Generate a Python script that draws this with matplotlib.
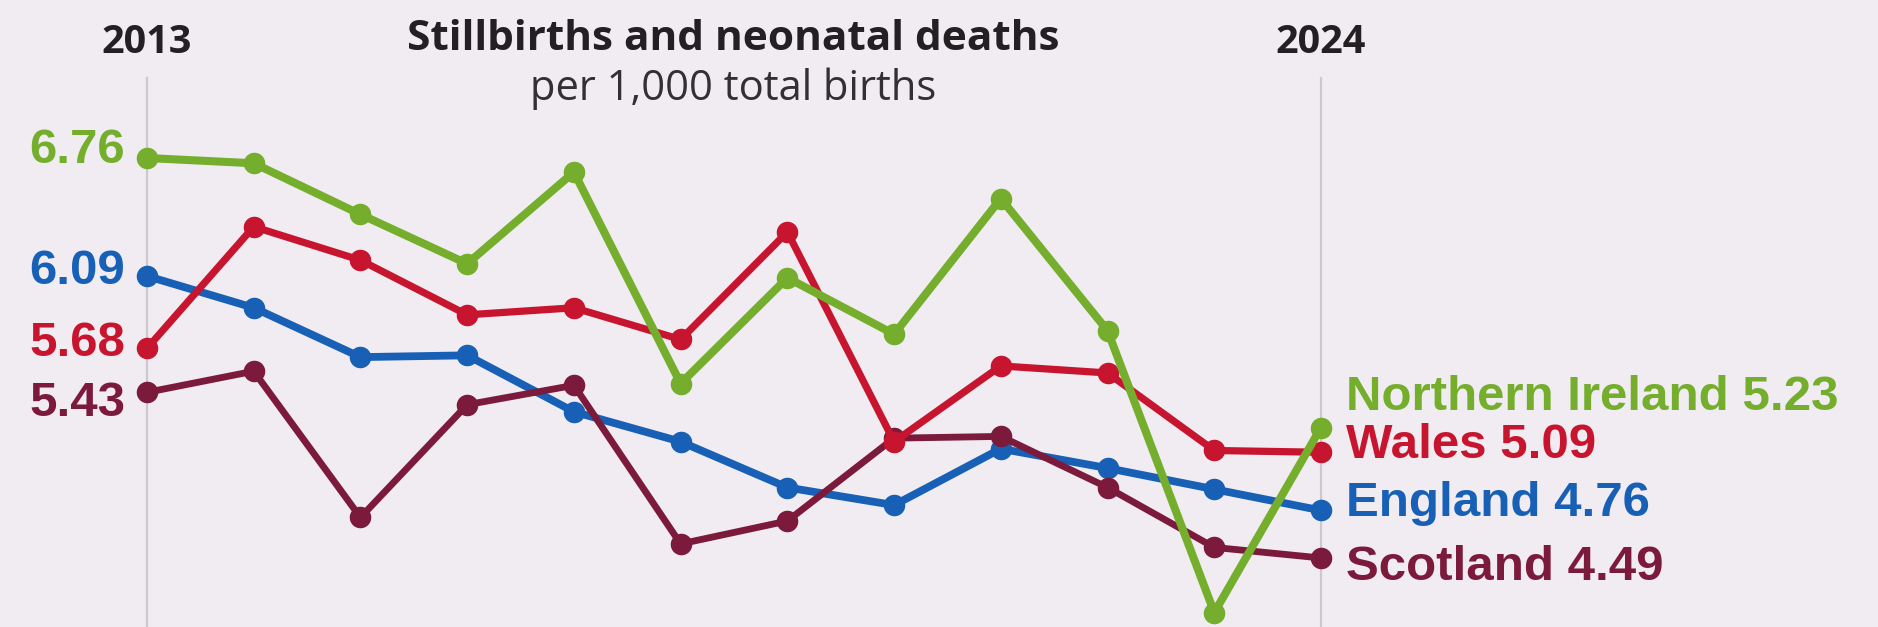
import matplotlib
matplotlib.use("Agg")
import matplotlib.pyplot as plt

# Stillbirths and neonatal deaths per 1,000 total births, UK nations
years = list(range(2013, 2025))
northern_ireland = [6.76, 6.73, 6.44, 6.16, 6.68, 5.48, 6.08, 5.76, 6.53, 5.78, 4.18, 5.23]
wales = [5.68, 6.37, 6.18, 5.87, 5.91, 5.73, 6.34, 5.15, 5.58, 5.54, 5.10, 5.09]
england = [6.09, 5.91, 5.63, 5.64, 5.32, 5.15, 4.89, 4.79, 5.11, 5.00, 4.88, 4.76]
scotland = [5.43, 5.55, 4.72, 5.36, 5.47, 4.57, 4.70, 5.17, 5.18, 4.89, 4.55, 4.49]

title = "Stillbirths and neonatal deaths"
subtitle = "per 1,000 total births"

BG = "#f0ecf1"
GREEN = "#74ae2c"
RED = "#c8152f"
BLUE = "#1760b6"
MAROON = "#7c1a3b"

W, H, DPI = 1878, 627, 100
fig = plt.figure(figsize=(W / DPI, H / DPI), dpi=DPI, facecolor=BG)
ax = fig.add_axes([0, 0, 1, 1])
ax.set_facecolor(BG)
ax.set_xlim(2011.6227, 2029.2187)
ax.set_ylim(4.0983, 7.6567)
ax.axis("off")

# Vertical guides at first and last year
for yr in (years[0], years[-1]):
    ax.axvline(yr, ymin=0, ymax=0.876, color="#cdc8ce", lw=1.6, zorder=1)

# (values, colour, width, left label offset px, right label, right offset px)
series = [
    (england, BLUE, 5.6, -8, "England", -6),
    (scotland, MAROON, 4.9, -24, "Scotland", -22),
    (wales, RED, 5.2, -8, "Wales", -6),
    (northern_ireland, GREEN, 5.8, -5, "Northern Ireland", 18),
]

num_font = dict(family="Liberation Sans", weight="bold", size=35.5)
for z, (vals, col, lw, loff, name, roff) in enumerate(series):
    ax.plot(years, vals, color=col, lw=lw, marker="o", ms=14.5,
            solid_joinstyle="round", solid_capstyle="round", zorder=3 + z)
    ax.annotate(f"{vals[0]:.2f}", xy=(years[0], vals[0]),
                xytext=(-22, loff), textcoords="offset pixels",
                ha="right", va="baseline", color=col, **num_font)
    ax.annotate(f"{name} {vals[-1]:.2f}", xy=(years[-1], vals[-1]),
                xytext=(25, roff), textcoords="offset pixels",
                ha="left", va="baseline", color=col, **num_font)

px = fig.dpi_scale_trans


def put(x, y, s, **kw):
    fig.text(x / DPI, (H - y) / DPI, s, transform=px, **kw)


head = dict(family="Open Sans", weight="bold", color="#231f22")
put(147, 53, str(years[0]), ha="center", va="baseline", size=28.5, **head)
put(1321, 53, str(years[-1]), ha="center", va="baseline", size=28.5, **head)
put(733, 50, title, ha="center", va="baseline", size=30.5, **head)
put(733, 100, subtitle, ha="center", va="baseline", size=30,
    family="Open Sans", color="#333033")

fig.savefig("out.png", dpi=DPI, facecolor=BG)
